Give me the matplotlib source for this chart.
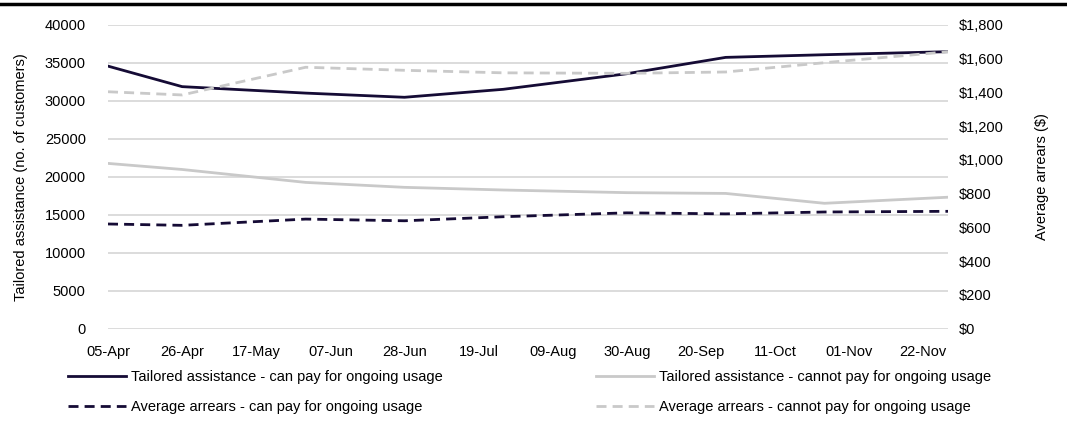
import matplotlib
matplotlib.use("Agg")
import matplotlib.pyplot as plt
from matplotlib.lines import Line2D
from matplotlib.ticker import FuncFormatter, MultipleLocator

plt.rcParams['font.family'] = ['Liberation Sans', 'DejaVu Sans']

# Weekly positions from 05-Apr (week 0) to 29-Nov (week 34); tick label every third week
week_labels = ["05-Apr", "26-Apr", "17-May", "07-Jun", "28-Jun", "19-Jul",
               "09-Aug", "30-Aug", "20-Sep", "11-Oct", "01-Nov", "22-Nov"]
# Reporting weeks (05-Apr, then end-of-month snapshots)
obs_weeks = [0, 3, 8, 12, 16, 21, 25, 29, 34]

# Customers on tailored assistance
ta_can_pay = [34550, 31850, 31000, 30450, 31500, 33550, 35700, 36050, 36450]
ta_cannot_pay = [21750, 20950, 19250, 18600, 18250, 17900, 17800, 16500, 17300]

# Average arrears ($)
arrears_can_pay = [620, 612, 649, 639, 663, 686, 680, 691, 695]
arrears_cannot_pay = [1403, 1384, 1548, 1530, 1515, 1512, 1520, 1575, 1640]

DARK = "#150b35"
LIGHT = "#c9c9c9"
GRID = "#d9d9d9"
FS = 10.5

fig = plt.figure(figsize=(10.67, 4.28), dpi=100)
ax = fig.add_axes([108 / 1067, 1 - 328.7 / 428, (948 - 108) / 1067, (328.7 - 24.7) / 428])
ax2 = ax.twinx()

l1, = ax.plot(obs_weeks, ta_can_pay, color=DARK, lw=2.0, solid_joinstyle="round", zorder=4)
l2, = ax.plot(obs_weeks, ta_cannot_pay, color=LIGHT, lw=2.0, zorder=3)
l3, = ax2.plot(obs_weeks, arrears_can_pay, color=DARK, lw=2.0, dashes=(3.6, 2.2), zorder=4)
l4, = ax2.plot(obs_weeks, arrears_cannot_pay, color=LIGHT, lw=2.0, dashes=(3.6, 2.2), zorder=3)

ax.set_xlim(0, 34)
ax.set_ylim(0, 40000)
ax2.set_ylim(0, 1800)
ax.yaxis.set_major_locator(MultipleLocator(5000))
ax2.yaxis.set_major_locator(MultipleLocator(200))
ax2.yaxis.set_major_formatter(FuncFormatter(lambda v, p: f"${v:,.0f}"))
ax.set_xticks(range(0, 34, 3))
ax.set_xticklabels(week_labels)

ax.grid(axis="y", color=GRID, lw=1.3)
ax.set_axisbelow(True)
for a in (ax, ax2):
    for s in a.spines.values():
        s.set_visible(False)
    a.tick_params(length=0, labelsize=FS, colors="black")
ax.tick_params(axis="x", pad=12)
ax.tick_params(axis="y", pad=16)
ax2.tick_params(axis="y", pad=8)
ax.patch.set_visible(False)

ax.set_ylabel("Tailored assistance (no. of customers)", fontsize=FS, labelpad=12)
ax2.set_ylabel("Average arrears ($)", fontsize=FS, labelpad=22)

# Rule across the top of the figure
fig.add_artist(Line2D([0, 1], [1 - 4 / 428] * 2, color="black", lw=2.5,
                      transform=fig.transFigure))

leg_kw = dict(frameon=False, fontsize=FS, handlelength=4.0, handletextpad=0.3,
              borderpad=0, borderaxespad=0, labelspacing=1.1, loc="upper left")
fig.legend([l1, l3], ["Tailored assistance - can pay for ongoing usage",
                      "Average arrears - can pay for ongoing usage"],
           bbox_to_anchor=(68 / 1067, 1 - 370 / 428), **leg_kw)
fig.legend([l2, l4], ["Tailored assistance - cannot pay for ongoing usage",
                      "Average arrears - cannot pay for ongoing usage"],
           bbox_to_anchor=(596 / 1067, 1 - 370 / 428), **leg_kw)

fig.savefig("out.png", dpi=100)
